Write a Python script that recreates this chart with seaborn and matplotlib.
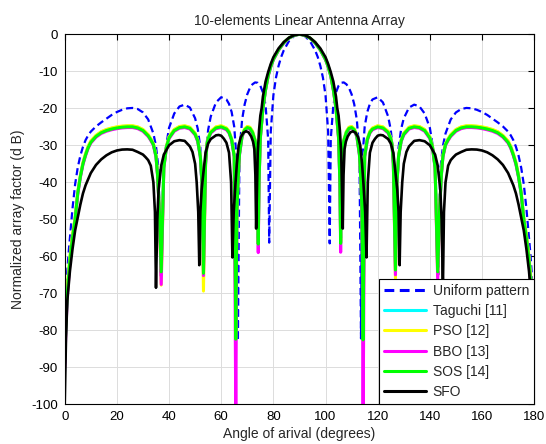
import matplotlib
matplotlib.use('Agg')
import matplotlib.pyplot as plt
import seaborn as sns

# angles (deg) and normalized array factor (dB)
ang_uniform = [0, 0.5, 1, 1.5, 2, 3, 4, 5, 6, 7, 8, 9, 10, 12, 14, 16, 18, 20, 22, 24, 26,
               28, 30, 32, 34, 35, 36, 36.8, 38, 40, 42, 44, 46, 48, 50, 51, 52, 53.1, 54, 55, 56,
               58, 60, 62, 63, 64, 65, 66, 66.4, 67, 68, 69, 70, 71, 72, 73, 74, 75, 76, 77, 78,
               78.4, 79, 80, 81, 82, 83, 84, 86, 88, 90,
               92, 94, 96, 97, 98, 99, 100, 101, 101.6, 102, 103, 104, 105, 106, 107, 108, 109, 110, 111, 112,
               113, 113.6, 114, 115, 116, 117, 118, 120, 122, 124, 125, 126, 126.9, 128, 129, 130, 132, 134, 136, 138,
               140, 142, 143.2, 144, 145, 146, 148, 150, 152, 154, 156, 158, 160, 162, 164, 166, 168, 170, 171, 172, 173,
               174, 175, 176, 177, 178, 178.5, 179, 179.5, 180]
af_uniform = [-95, -72, -64, -59, -55, -47, -40.5, -36.0, -32.8, -30.4, -28.6, -27.3, -26.3, -24.9, -23.8, -22.8, -21.8, -21.0, -20.4, -20.0, -19.9,
              -20.2, -21.1, -23.0, -26.8, -30.2, -36.6, -65.5, -34.1, -25.3, -21.4, -19.5, -19.0, -19.8, -22.7, -25.5, -30.6, -60.0, -32.4, -25.8, -22.2,
              -18.4, -17.0, -17.6, -18.8, -21.0, -25.0, -35.0, -82.8, -32.0, -23.1, -18.9, -16.2, -14.5, -13.5, -13.0, -13.1, -13.9, -15.7, -19.1, -28.3,
              -56.3, -26.3, -16.5, -11.7, -8.5, -6.1, -4.3, -1.8, -0.43, 0.0,
              -0.43, -1.8, -4.3, -6.1, -8.5, -11.7, -16.5, -26.3, -56.5, -28.3, -19.1, -15.7, -13.9, -13.1, -13.0, -13.5, -14.5, -16.2, -18.9, -23.1,
              -32.0, -82.2, -35.0, -25.0, -21.0, -18.8, -17.6, -17.0, -18.4, -22.2, -25.8, -32.4, -60.0, -30.6, -25.5, -22.7, -19.8, -19.0, -19.5, -21.4,
              -25.3, -34.1, -65.0, -36.6, -30.2, -26.8, -23.0, -21.1, -20.2, -19.9, -20.0, -20.4, -21.0, -21.8, -22.8, -23.8, -24.9, -26.3, -27.3, -28.6, -30.4,
              -32.8, -36.0, -40.5, -47.0, -55.0, -59.0, -64.0, -72.0, -95.0]

# Taguchi, PSO, BBO and SOS share the same sampling
ang_opt = [0, 0.5, 1, 2, 3, 4, 5, 6, 7, 8, 9, 10, 12, 14, 16, 18, 20, 22, 24, 26,
           28, 30, 32, 33, 34, 35, 35.6, 36.3, 37, 38, 39, 40, 42, 44, 46, 48, 50, 51, 52, 52.6,
           53.2, 54, 54.5, 55, 56, 58, 60, 62, 63, 64, 65, 65.6, 66, 66.5, 67, 68, 69, 70, 71, 72,
           73, 73.6, 74, 74.2, 74.5, 75, 76, 77, 78, 79, 80, 82, 84, 86, 88, 90,
           92, 94, 96, 98, 100, 101, 102, 103, 104, 105, 105.5, 105.8, 106, 106.4, 107, 108, 109, 110, 111, 112,
           113, 113.5, 114, 114.4, 115, 116, 117, 118, 120, 122, 124, 125, 125.5, 126, 126.8, 127.4, 128, 129, 130, 132,
           134, 136, 138, 140, 141, 142, 143, 143.7, 144.4, 145, 146, 147, 148, 150, 152, 154, 156, 158, 160, 162,
           164, 166, 168, 170, 171, 172, 173, 174, 175, 176, 177, 178, 179, 179.5, 180]
af_sos = [-88, -78, -70, -61, -55, -50, -43, -38.5, -35, -32.6, -30.6, -29.2, -27.6, -26.6, -26.0, -25.6, -25.3, -25.1, -25.0, -25.0,
          -25.3, -26.0, -27.4, -28.5, -29.8, -33.0, -38.0, -48.0, -64.2, -36.0, -30.5, -28.0, -26.0, -25.2, -25.0, -25.4, -27.0, -28.8, -33.0, -40.0,
          -64.6, -35.0, -30.0, -28.2, -26.5, -25.3, -25.0, -25.6, -26.5, -28.5, -33.0, -82.4, -48.0, -39.0, -32.5, -27.5, -25.8, -25.2, -25.4, -26.5,
          -28.8, -32.0, -42.0, -56.7, -40.0, -28.0, -20.0, -15.0, -11.2, -8.7, -6.8, -4.2, -2.3, -1.0, -0.25, 0.0,
          -0.25, -1.0, -2.3, -4.2, -6.8, -8.7, -11.2, -15.0, -20.0, -28.0, -40.0, -56.5, -42.0, -32.0, -28.8, -26.5, -25.4, -25.2, -25.8, -27.5,
          -32.5, -39.0, -48.0, -82.6, -33.0, -28.5, -26.5, -25.6, -25.0, -25.3, -26.5, -28.2, -30.0, -35.0, -63.7, -40.0, -33.0, -28.8, -27.0, -25.4,
          -25.0, -25.2, -26.0, -28.0, -30.5, -36.0, -64.2, -48.0, -38.0, -33.0, -29.8, -28.5, -27.4, -26.0, -25.3, -25.0, -25.0, -25.1, -25.3, -25.6,
          -26.0, -26.6, -27.6, -29.2, -30.6, -32.6, -35.0, -38.5, -43.0, -50.0, -55.0, -61.0, -70.0, -78.0, -88.0]
af_taguchi = [-86, -77, -69, -60.5, -54.5, -49.7, -42.8, -38.3, -34.8, -32.4, -30.4, -29.0, -27.4, -26.4, -25.8, -25.4, -25.1, -24.9, -24.8, -24.8,
              -25.1, -25.8, -27.2, -28.3, -29.6, -32.8, -37.8, -47.8, -62.5, -35.8, -30.3, -27.8, -25.8, -25.0, -24.8, -25.2, -26.8, -28.6, -32.8, -39.8,
              -62.0, -34.8, -29.8, -28.0, -26.3, -25.1, -24.8, -25.4, -26.3, -28.3, -32.8, -76.0, -47.8, -38.8, -32.3, -27.3, -25.6, -25.0, -25.2, -26.3,
              -28.6, -31.8, -41.8, -55.0, -39.8, -27.8, -19.9, -14.9, -11.1, -8.6, -6.7, -4.1, -2.2, -0.97, -0.24, 0.0,
              -0.24, -0.97, -2.2, -4.1, -6.7, -8.6, -11.1, -14.9, -19.9, -27.8, -39.8, -55.0, -41.8, -31.8, -28.6, -26.3, -25.2, -25.0, -25.6, -27.3,
              -32.3, -38.8, -47.8, -76.0, -32.8, -28.3, -26.3, -25.4, -24.8, -25.1, -26.3, -28.0, -29.8, -34.8, -62.0, -39.8, -32.8, -28.6, -26.8, -25.2,
              -24.8, -25.0, -25.8, -27.8, -30.3, -35.8, -62.5, -47.8, -37.8, -32.8, -29.6, -28.3, -27.2, -25.8, -25.1, -24.8, -24.8, -24.9, -25.1, -25.4,
              -25.8, -26.4, -27.4, -29.0, -30.4, -32.4, -34.8, -38.3, -42.8, -49.7, -54.5, -60.5, -69.0, -77.0, -86.0]
af_pso = [-85, -76, -68, -60, -54, -49.5, -42.6, -38.1, -34.6, -32.2, -30.2, -28.8, -27.3, -26.3, -25.7, -25.3, -25.0, -24.8, -24.7, -24.7,
          -25.0, -25.7, -27.1, -28.2, -29.5, -32.7, -37.7, -47.7, -67.8, -35.7, -30.2, -27.7, -25.7, -24.9, -24.7, -25.1, -26.7, -28.5, -32.7, -39.7,
          -69.4, -34.7, -29.7, -27.9, -26.2, -25.0, -24.7, -25.3, -26.2, -28.2, -32.7, -80.0, -47.7, -38.7, -32.2, -27.2, -25.5, -24.9, -25.1, -26.2,
          -28.5, -31.7, -41.7, -56.5, -39.7, -27.7, -19.8, -14.9, -11.1, -8.6, -6.7, -4.1, -2.2, -0.95, -0.22, 0.0,
          -0.22, -0.95, -2.2, -4.1, -6.7, -8.6, -11.1, -14.9, -19.8, -27.7, -39.7, -56.0, -41.7, -31.7, -28.5, -26.2, -25.1, -24.9, -25.5, -27.2,
          -32.2, -38.7, -47.7, -80.0, -32.7, -28.2, -26.2, -25.3, -24.7, -25.0, -26.2, -27.9, -29.7, -34.7, -65.9, -39.7, -32.7, -28.5, -26.7, -25.1,
          -24.7, -24.9, -25.7, -27.7, -30.2, -35.7, -65.5, -47.7, -37.7, -32.7, -29.5, -28.2, -27.1, -25.7, -25.0, -24.7, -24.7, -24.8, -25.0, -25.3,
          -25.7, -26.3, -27.3, -28.8, -30.2, -32.2, -34.6, -38.1, -42.6, -49.5, -54.0, -60.0, -68.0, -76.0, -85.0]
af_bbo = [-90, -79, -71, -61.5, -55.3, -50.2, -43.2, -38.7, -35.2, -32.8, -30.8, -29.4, -27.8, -26.8, -26.2, -25.8, -25.5, -25.3, -25.2, -25.2,
          -25.5, -26.2, -27.6, -28.7, -30.0, -33.2, -38.2, -48.2, -67.6, -36.2, -30.7, -28.2, -26.2, -25.4, -25.2, -25.6, -27.2, -29.0, -33.2, -40.2,
          -65.2, -35.2, -30.2, -28.4, -26.7, -25.5, -25.2, -25.8, -26.7, -28.7, -33.2, -105.0, -48.2, -39.2, -32.7, -27.7, -26.0, -25.4, -25.6, -26.7,
          -29.0, -32.2, -42.2, -59.0, -40.2, -28.2, -20.1, -15.1, -11.3, -8.8, -6.9, -4.3, -2.35, -1.03, -0.26, 0.0,
          -0.26, -1.03, -2.35, -4.3, -6.9, -8.8, -11.3, -15.1, -20.1, -28.2, -40.2, -58.9, -42.2, -32.2, -29.0, -26.7, -25.6, -25.4, -26.0, -27.7,
          -32.7, -39.2, -48.2, -105.0, -33.2, -28.7, -26.7, -25.8, -25.2, -25.5, -26.7, -28.4, -30.2, -35.2, -65.0, -40.2, -33.2, -29.0, -27.2, -25.6,
          -25.2, -25.4, -26.2, -28.2, -30.7, -36.2, -66.5, -48.2, -38.2, -33.2, -30.0, -28.7, -27.6, -26.2, -25.5, -25.2, -25.2, -25.3, -25.5, -25.8,
          -26.2, -26.8, -27.8, -29.4, -30.8, -32.8, -35.2, -38.7, -43.2, -50.2, -55.3, -61.5, -71.0, -79.0, -90.0]

ang_sfo = [0, 0.5, 1, 2, 3, 4, 5, 6, 7, 8, 10, 12, 14, 16, 18, 20, 22, 24, 26, 28,
           30, 31, 32, 33, 34, 34.6, 35.0, 35.5, 36, 37, 38, 40, 42, 44, 46, 48, 49, 50, 50.6, 51.2,
           51.6, 52, 52.5, 53, 54, 55, 56, 58, 59, 60, 61, 62, 63, 63.8, 64.3, 64.8, 65.5, 66, 66.7, 67.5,
           68.5, 69.5, 70.5, 71.5, 72.2, 72.7, 73.1, 73.4, 74, 74.5, 75, 75.5, 76, 77, 78, 79, 80, 82, 84, 86,
           88, 90,
           92, 94, 96, 98, 100, 101, 102, 103, 104, 104.5, 105, 105.5, 106, 106.6, 106.9, 107.3, 107.8, 108.5, 109.5, 110.5,
           111.5, 112.5, 113.3, 114, 114.5, 115.2, 115.7, 116.2, 117, 118, 119, 120, 121, 122, 124, 125, 126, 127, 127.5, 128,
           128.4, 128.8, 129.4, 130, 131, 132, 134, 136, 138, 140, 142, 143, 144, 144.5, 145, 145.4, 146, 147, 148, 149,
           150, 152, 154, 156, 158, 160, 162, 164, 166, 168, 170, 172, 173, 174, 175, 176, 177, 178, 179, 179.5,
           180]
af_sfo = [-100, -82, -72, -64, -58, -53, -49.5, -46, -43, -40.8, -37.5, -35.3, -33.8, -32.7, -31.9, -31.4, -31.15, -31.1, -31.2, -31.8,
          -32.5, -33.2, -34.0, -35.5, -40.0, -48.0, -68.5, -50.0, -42.0, -35.5, -32.5, -30.0, -28.9, -28.6, -28.8, -30.3, -31.8, -35.0, -40.0, -48.0,
          -62.4, -48.0, -42.0, -38.5, -32.0, -29.5, -28.3, -27.3, -27.2, -27.4, -28.2, -29.3, -32.0, -40.0, -60.3, -48.0, -40.0, -35.0, -30.0, -27.8,
          -26.6, -26.2, -26.5, -27.6, -29.0, -31.0, -38.0, -52.5, -32.0, -26.0, -22.0, -20.0, -16.8, -12.8, -10.2, -8.0, -6.2, -3.8, -2.1, -0.9,
          -0.22, 0.0,
          -0.22, -0.9, -2.1, -3.8, -6.2, -8.0, -10.2, -12.8, -16.8, -20.0, -22.0, -26.0, -32.0, -52.5, -38.0, -31.0, -29.0, -27.6, -26.5, -26.2,
          -26.6, -27.8, -30.0, -35.0, -40.0, -48.0, -60.3, -40.0, -32.0, -29.3, -28.2, -27.4, -27.2, -27.3, -28.3, -29.5, -32.0, -38.5, -42.0, -48.0,
          -62.4, -48.0, -40.0, -35.0, -31.8, -30.3, -28.8, -28.6, -28.9, -30.0, -32.5, -35.5, -42.0, -50.0, -68.5, -48.0, -40.0, -35.5, -34.0, -33.2,
          -32.5, -31.8, -31.2, -31.1, -31.15, -31.4, -31.9, -32.7, -33.8, -35.3, -37.5, -40.8, -43.0, -46.0, -49.5, -53.0, -58.0, -64.0, -72.0, -82.0,
          -100.0]

x_ticks = list(range(0, 181, 20))
y_ticks = list(range(-100, 1, 10))

sns.set_theme(style='white')
plt.rcParams['font.family'] = ['Liberation Sans', 'DejaVu Sans']
plt.rcParams['axes.unicode_minus'] = False

fig = plt.figure(figsize=(5.46, 4.44), dpi=100)
ax = fig.add_axes([0.1185, 0.0894, 0.8599, 0.8333])

sns.lineplot(x=ang_uniform, y=af_uniform, ax=ax, color='#0000ff', lw=1.6,
             estimator=None, sort=False, label='Uniform pattern')
ax.lines[-1].set_dashes([3.2, 1.8])
sns.lineplot(x=ang_opt, y=af_taguchi, ax=ax, color='#00ffff', lw=2.2,
             estimator=None, sort=False, label='Taguchi [11]')
sns.lineplot(x=ang_opt, y=af_pso, ax=ax, color='#ffff00', lw=2.2,
             estimator=None, sort=False, label='PSO [12]')
sns.lineplot(x=ang_opt, y=af_bbo, ax=ax, color='#ff00ff', lw=2.2,
             estimator=None, sort=False, label='BBO [13]')
sns.lineplot(x=ang_opt, y=af_sos, ax=ax, color='#00ff00', lw=2.2,
             estimator=None, sort=False, label='SOS [14]')
sns.lineplot(x=ang_sfo, y=af_sfo, ax=ax, color='black', lw=1.9,
             estimator=None, sort=False, label='SFO')

ax.set_xlim(0, 180)
ax.set_ylim(-100, 0)
ax.set_xticks(x_ticks)
ax.set_yticks(y_ticks)
ax.grid(True, color='#dcdcdc', lw=0.7)
ax.set_axisbelow(True)
ax.tick_params(direction='in', top=True, right=True, length=4, width=0.8,
               labelsize=9.5, colors='black', pad=5)
for s in ax.spines.values():
    s.set_color('black')
    s.set_linewidth(0.8)

ax.set_title('10-elements Linear Antenna Array', fontsize=10, pad=7)
ax.set_xlabel('Angle of arival (degrees)', fontsize=10, labelpad=3)
ax.set_ylabel('Normalized array factor (d B)', fontsize=10, labelpad=4)

leg = ax.legend(loc='lower right', bbox_to_anchor=(1, 0), borderaxespad=0,
                fontsize=10, handlelength=3.0, handletextpad=0.5,
                borderpad=0.38, labelspacing=0.45, fancybox=False,
                framealpha=1, edgecolor='black')
leg.get_frame().set_linewidth(0.8)
for line in leg.get_lines():
    line.set_linewidth(2.2)

fig.savefig('out.png', dpi=100)
